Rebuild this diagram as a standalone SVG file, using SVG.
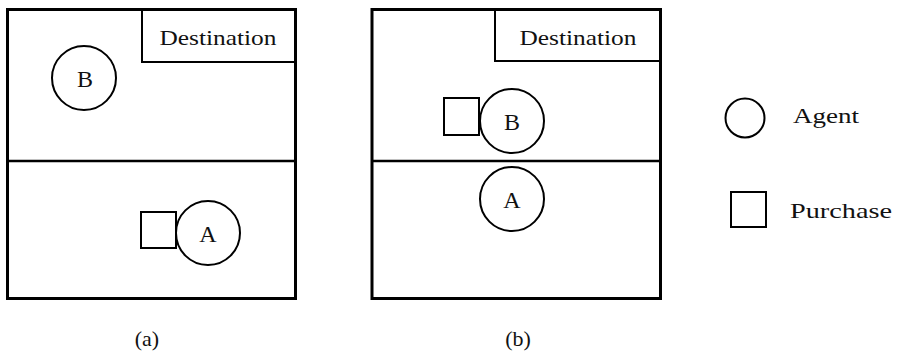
<svg xmlns="http://www.w3.org/2000/svg" width="897" height="353" viewBox="0 0 897 353">
<style>
.frame{fill:none;stroke:#000;stroke-width:3}
.mid{stroke:#000;stroke-width:2.5}
.dest{fill:none;stroke:#000;stroke-width:2}
.agent{fill:#fff;stroke:#000;stroke-width:2}
.purchase{fill:#fff;stroke:#000;stroke-width:2}
text{font-family:"Liberation Serif","DejaVu Serif",serif;font-size:22px;fill:#111}
.c{text-anchor:middle}
.big{font-size:24px}
</style>
<rect width="897" height="353" fill="#fff"/>
<g id="panel-a">
  <rect class="frame" x="7.5" y="9.5" width="288" height="289"/>
  <line class="mid" x1="7.5" y1="161" x2="295.5" y2="161"/>
  <g id="dest-a"><path class="dest" d="M142,9.5 V62 H295.5"/><text class="c" x="218" y="45" textLength="117" lengthAdjust="spacingAndGlyphs">Destination</text></g>
  <g id="agent-b-a"><circle class="agent" cx="84" cy="78" r="32"/><text class="c big" x="85" y="87">B</text></g>
  <g id="purchase-a"><rect class="purchase" x="141" y="212" width="35" height="36"/></g>
  <g id="agent-a-a"><circle class="agent" cx="208" cy="233" r="32"/><text class="c big" x="208" y="242">A</text></g>
  <text id="label-a" class="c" x="147" y="346">(a)</text>
</g>
<g id="panel-b">
  <rect class="frame" x="372" y="9.5" width="288.5" height="289"/>
  <line class="mid" x1="372" y1="161" x2="660.5" y2="161"/>
  <g id="dest-b"><path class="dest" d="M495,9.5 V61 H660.5"/><text class="c" x="578" y="45" textLength="117" lengthAdjust="spacingAndGlyphs">Destination</text></g>
  <g id="purchase-b"><rect class="purchase" x="444" y="98" width="35" height="37"/></g>
  <g id="agent-b-b"><circle class="agent" cx="512" cy="121" r="32"/><text class="c big" x="512" y="130">B</text></g>
  <g id="agent-a-b"><circle class="agent" cx="512" cy="199" r="32"/><text class="c big" x="512" y="208">A</text></g>
  <text id="label-b" class="c" x="518" y="346">(b)</text>
</g>
<g id="legend">
  <g id="legend-agent"><circle class="agent" cx="745" cy="118" r="19.5"/><text x="793" y="123" textLength="66" lengthAdjust="spacingAndGlyphs">Agent</text></g>
  <g id="legend-purchase"><rect class="purchase" x="731" y="192" width="35" height="35"/><text x="790" y="218" textLength="102" lengthAdjust="spacingAndGlyphs">Purchase</text></g>
</g>
</svg>
